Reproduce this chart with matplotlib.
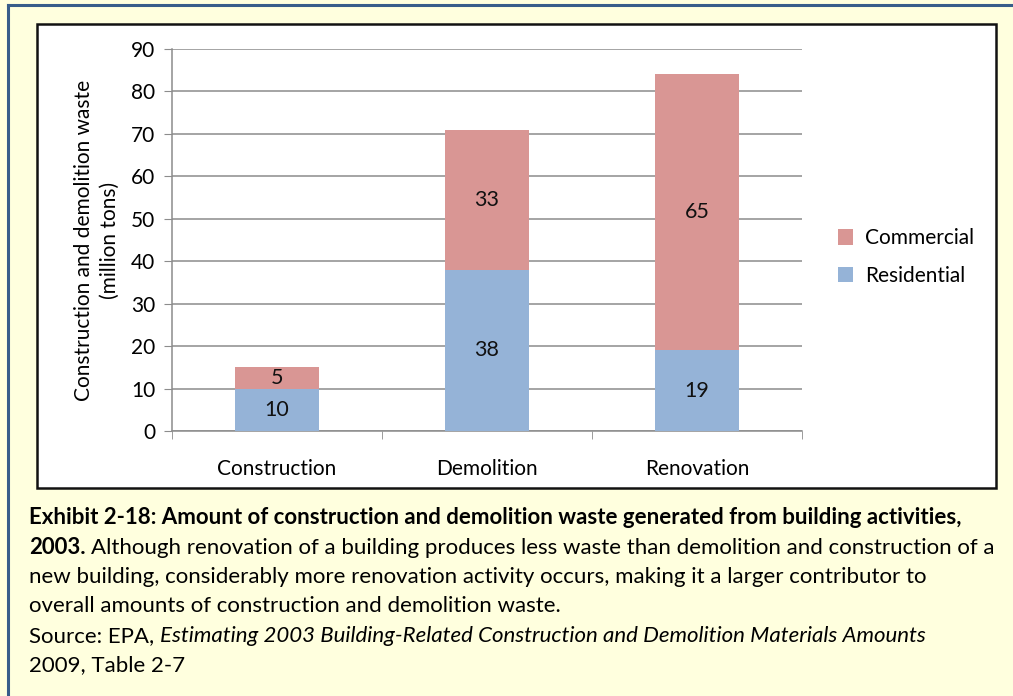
import numpy as np
import matplotlib.pyplot as plt
from matplotlib.patches import Rectangle
from matplotlib.lines import Line2D

categories = ['Construction', 'Demolition', 'Renovation']
residential = [10, 38, 19]
commercial = [5, 33, 65]
yticks = [0, 10, 20, 30, 40, 50, 60, 70, 80, 90]

col_res = '#95B3D7'
col_com = '#D99694'
bg = '#FFFFDE'
W, H = 1013, 696

plt.rcParams['font.family'] = ['Lato', 'DejaVu Sans']

fig = plt.figure(figsize=(W / 100, H / 100), dpi=100)
fig.patch.set_facecolor(bg)

def fx(px):
    return px / W

def fy(py):
    return 1 - py / H

# outer border (top and left only visible)
fig.add_artist(Line2D([fx(8), fx(8)], [fy(5), 0], color='#385D8A', lw=2.2, transform=fig.transFigure))
fig.add_artist(Line2D([fx(8), 1], [fy(5), fy(5)], color='#385D8A', lw=2.2, transform=fig.transFigure))

# chart box
fig.add_artist(Rectangle((fx(37), fy(488)), fx(996) - fx(37), fy(24) - fy(488),
                         facecolor='white', edgecolor='#111111', lw=1.8,
                         transform=fig.transFigure, zorder=0))

fs = 15

ax = fig.add_axes([fx(172), fy(431), fx(802) - fx(172), fy(49) - fy(431)])
ax.set_facecolor('none')
x = np.arange(len(categories))
ax.bar(x, residential, width=0.4, color=col_res, label='Residential', zorder=3)
ax.bar(x, commercial, width=0.4, bottom=residential, color=col_com, label='Commercial', zorder=3)

for i in range(len(categories)):
    ax.text(x[i], residential[i] / 2, str(residential[i]), ha='center', va='center',
            fontsize=fs + 0.5, color='#111111', zorder=4)
    ax.text(x[i], residential[i] + commercial[i] / 2, str(commercial[i]), ha='center', va='center',
            fontsize=fs + 0.5, color='#111111', zorder=4)

ax.set_xlim(-0.5, 2.5)
ax.set_ylim(0, 90)
ax.set_yticks(yticks)
ax.grid(axis='y', color='#8C8C8C', lw=1.1, zorder=1)
ax.set_xticks(x)
ax.set_xticklabels(categories, fontsize=fs)
ax.set_xticks([-0.5, 0.5, 1.5, 2.5], minor=True)
ax.tick_params(axis='x', which='major', length=0, pad=20)
ax.tick_params(axis='x', which='minor', length=6, color='#8C8C8C', direction='out')
ax.tick_params(axis='y', length=6, color='#8C8C8C', labelsize=fs, pad=6)
for s in ['top', 'right']:
    ax.spines[s].set_visible(False)
for s in ['left', 'bottom']:
    ax.spines[s].set_color('#8C8C8C')
    ax.spines[s].set_linewidth(1.1)

ax.set_ylabel('Construction and demolition waste\n(million tons)', fontsize=fs, labelpad=8,
              linespacing=1.4)

h, l = ax.get_legend_handles_labels()
fig.legend(h[::-1], l[::-1], loc='center left', bbox_to_anchor=(fx(819), fy(257)),
           frameon=False, fontsize=fs, handlelength=0.75, handleheight=0.75,
           handletextpad=0.55, labelspacing=0.85)

# caption
cfs = 16
cx = fx(29)
fig.text(cx, fy(518), 'Exhibit 2-18: Amount of construction and demolition waste generated from building activities,',
         fontsize=cfs, fontweight='bold', va='center')
t = fig.text(cx, fy(548), '2003.', fontsize=cfs, fontweight='bold', va='center')
fig.canvas.draw()
bb = t.get_window_extent()
fig.text(bb.x1 / W + fx(5),
         fy(548), 'Although renovation of a building produces less waste than demolition and construction of a',
         fontsize=cfs, va='center')
fig.text(cx, fy(577), 'new building, considerably more renovation activity occurs, making it a larger contributor to',
         fontsize=cfs, va='center')
fig.text(cx, fy(606), 'overall amounts of construction and demolition waste.', fontsize=cfs, va='center')
s = fig.text(cx, fy(636), 'Source: EPA, ', fontsize=cfs, va='center')
fig.canvas.draw()
bb = s.get_window_extent()
fig.text(bb.x1 / W, fy(636), 'Estimating 2003 Building-Related Construction and Demolition Materials Amounts',
         fontsize=cfs, style='italic', va='center')
fig.text(cx, fy(665), '2009, Table 2-7', fontsize=cfs, va='center')

fig.savefig('out.png', dpi=100, facecolor=bg)
